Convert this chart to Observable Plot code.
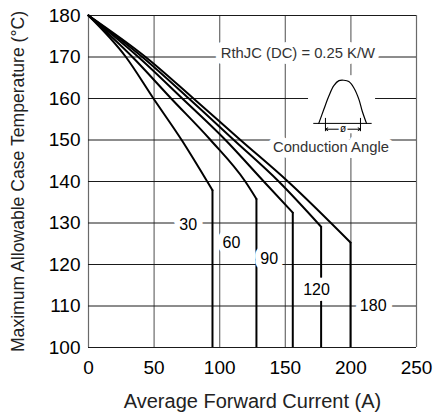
<!DOCTYPE html>
<html>
<head>
<meta charset="utf-8">
<script src="https://cdn.jsdelivr.net/npm/d3@7"></script>
<script src="https://cdn.jsdelivr.net/npm/@observablehq/plot@0.6"></script>
<style>
  html, body { margin: 0; padding: 0; background: #fff; }
  #chart svg { display: block; }
</style>
</head>
<body>
<div id="chart"></div>
<script>
// ---- data ----
const angles = ["30", "60", "90", "120", "180"];
// sloped part of each curve (current A, case temperature °C)
const current30  = [0, 28.5, 49.5, 71, 90.5, 94.5];
const temp30     = [180, 170, 160, 150, 140, 137.9];
const current60  = [0, 33.5, 63, 93, 119.5, 128];
const temp60     = [180, 170, 160, 150, 140, 135.8];
const current90  = [0, 38, 71.5, 104.4, 133.6, 155.7];
const temp90     = [180, 170, 160, 150, 140, 132.5];
const current120 = [0, 41, 76.5, 110.8, 145, 177.3];
const temp120    = [180, 170, 160, 150, 140, 129.1];
const current180 = [0, 43.5, 80, 115.8, 152, 199.7];
const temp180    = [180, 170, 160, 150, 140, 125.3];

// curve labels
const labelCurrent = [76, 109, 137.7, 173.8, 217];
const labelTemp    = [129.6, 125.2, 121.3, 114, 110];

// axes
const xTicks = [0, 50, 100, 150, 200, 250];
const yTicks = [100, 110, 120, 130, 140, 150, 160, 170, 180];
const xTitle = "Average Forward Current (A)";
const yTitle = "Maximum Allowable Case Temperature (°C)";

// annotations
const noteText = ["RthJC (DC) = 0.25 K/W", "Conduction Angle"];
const noteCurrent = [159.6, 184.8];
const noteTemp = [170.8, 148.2];

// inset waveform (half-sine icon)
const humpCurrent = [175.5, 179.4, 183.2, 187.0, 190.9, 194.6, 198.4, 202.2, 206.1, 208.6, 211.9];
const humpTemp    = [154.0, 157.4, 160.6, 163.1, 164.3, 164.4, 164.1, 162.6, 159.8, 157.0, 154.0];
const insetBase = {x1: 171.7, x2: 216.2, y: 154.0};
const insetAngle = {x1: 180.6, x2: 207.3, y: 152.6, top: 155.2, bottom: 152.0};
const insetBox = {x1: 167.7, x2: 218.8, y1: 151.5, y2: 165.5};

// ---- build tables ----
const currents = [current30, current60, current90, current120, current180];
const temps = [temp30, temp60, temp90, temp120, temp180];
const curves = angles.flatMap((a, i) => currents[i].map((c, j) => ({angle: a, current: c, temp: temps[i][j]})));
const drops = angles.map((a, i) => ({angle: a, current: currents[i].at(-1), temp: temps[i].at(-1)}));
const labels = angles.map((a, i) => ({text: a, current: labelCurrent[i], temp: labelTemp[i]}));
const notes = noteText.map((t, i) => ({text: t, current: noteCurrent[i], temp: noteTemp[i]}));
const hump = humpCurrent.map((c, i) => ({current: c, temp: humpTemp[i]}));
const angleMid = (insetAngle.x1 + insetAngle.x2) / 2;

const font = "'Liberation Sans', Arial, Helvetica, sans-serif";

const chart = Plot.plot({
  width: 433,
  height: 419,
  marginLeft: 88,
  marginRight: 17,
  marginTop: 15,
  marginBottom: 72,
  style: {fontFamily: font, fontSize: "18px", color: "#000", background: "#fff"},
  x: {domain: [0, 250], axis: null},
  y: {domain: [100, 180], axis: null},
  marks: [
    Plot.gridX(xTicks, {stroke: "#6a6a6a", strokeOpacity: 1, strokeWidth: 1.2}),
    Plot.gridY(yTicks, {stroke: "#1a1a1a", strokeOpacity: 1, strokeWidth: 1}),
    Plot.axisX(xTicks, {tickSize: 0, tickPadding: 13, fontSize: 19, label: null, tickFormat: d => String(d)}),
    Plot.axisY(yTicks, {tickSize: 0, tickPadding: 8, fontSize: 19, label: null, tickFormat: d => String(d)}),
    Plot.text([yTitle], {frameAnchor: "left", textAnchor: "middle", rotate: -90, dx: -70, fontSize: 17.6, fill: "#222"}),
    Plot.text([xTitle], {frameAnchor: "bottom", dy: 60, fontSize: 20, fill: "#222"}),
    // inset background
    Plot.rect([insetBox], {x1: "x1", x2: "x2", y1: "y1", y2: "y2", fill: "white"}),
    // curves
    Plot.line(curves, {x: "current", y: "temp", z: "angle", stroke: "#000", strokeWidth: 2, curve: "monotone-x"}),
    Plot.ruleX(drops, {x: "current", y1: 100, y2: "temp", stroke: "#000", strokeWidth: 2}),
    // curve labels
    Plot.text(labels, {x: "current", y: "temp", text: "text", fontSize: 16, fill: "#000", stroke: "white", strokeWidth: 12}),
    // annotations
    Plot.text(notes, {x: "current", y: "temp", text: "text", fontSize: 14.8, fill: "#333", stroke: "white", strokeWidth: 12}),
    // inset icon
    Plot.ruleY([insetBase], {x1: "x1", x2: "x2", y: "y", stroke: "#000", strokeWidth: 1}),
    Plot.line(hump, {x: "current", y: "temp", stroke: "#000", strokeWidth: 1.2, curve: "catmull-rom"}),
    Plot.ruleX([insetAngle.x1, insetAngle.x2], {x: d => d, y1: insetAngle.bottom, y2: insetAngle.top, stroke: "#000", strokeWidth: 1}),
    Plot.arrow([{x1: angleMid, x2: insetAngle.x1}, {x1: angleMid, x2: insetAngle.x2}], {x1: "x1", x2: "x2", y1: insetAngle.y, y2: insetAngle.y, stroke: "#000", strokeWidth: 1, headLength: 4}),
    Plot.text(["ø"], {x: angleMid, y: insetAngle.y, fontSize: 10, fill: "#000", stroke: "white", strokeWidth: 4})
  ]
});
document.getElementById("chart").appendChild(chart);
</script>
</body>
</html>
